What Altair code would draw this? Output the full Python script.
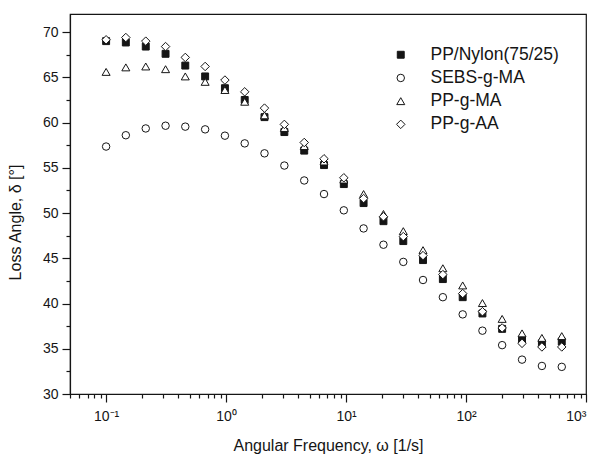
import altair as alt
import pandas as pd

omega = [0.1, 0.146, 0.214, 0.313, 0.457, 0.669, 0.978, 1.43, 2.09, 3.06, 4.48, 6.55,
         9.58, 14.0, 20.5, 30.0, 43.8, 64.1, 93.8, 137, 200, 293, 429, 628]
pp_nylon = [69.0, 68.85, 68.4, 67.6, 66.3, 65.1, 63.8, 62.5, 60.6, 58.95, 56.9, 55.3,
            53.2, 51.1, 49.1, 46.9, 44.8, 42.7, 40.7, 38.9, 37.2, 36.0, 35.6, 35.8]
sebs_g_ma = [57.35, 58.6, 59.35, 59.65, 59.55, 59.25, 58.55, 57.7, 56.6, 55.25, 53.6, 52.1,
             50.3, 48.3, 46.5, 44.6, 42.6, 40.7, 38.8, 37.0, 35.4, 33.8, 33.1, 33.0]
pp_g_ma = [65.6, 66.1, 66.2, 65.9, 65.1, 64.5, 63.6, 62.3, 60.8, 59.4, 57.4, 55.7,
           53.7, 52.1, 49.9, 48.0, 45.9, 43.9, 42.0, 40.05, 38.3, 36.7, 36.2, 36.4]
pp_g_aa = [69.15, 69.4, 69.0, 68.4, 67.2, 66.2, 64.7, 63.4, 61.6, 59.8, 57.8, 56.0,
           53.9, 51.6, 49.6, 47.4, 45.3, 43.2, 41.1, 39.1, 37.3, 35.6, 35.2, 35.2]

series_names = ["PP/Nylon(75/25)", "SEBS-g-MA", "PP-g-MA", "PP-g-AA"]
series_vals = [pp_nylon, sebs_g_ma, pp_g_ma, pp_g_aa]

x_major = [0.1, 1, 10, 100, 1000]
x_minor = [m * d for d in [0.01, 0.1, 1, 10, 100] for m in range(2, 10)]
x_minor = [v for v in x_minor if 0.05 <= v <= 1000]
y_major = [30, 35, 40, 45, 50, 55, 60, 65, 70]
y_minor = [32.5, 37.5, 42.5, 47.5, 52.5, 57.5, 62.5, 67.5]

rows = []
for name, vals in zip(series_names, series_vals):
    for w, d in zip(omega, vals):
        rows.append({"omega": w, "delta": d, "series": name})
df = pd.DataFrame(rows)

FONT = "Liberation Sans"
INK = "#151515"

xscale = alt.Scale(type="log", domain=[0.05, 1000], nice=False)
yscale = alt.Scale(domain=[30, 72], nice=False, zero=False)

label_expr = ("datum.value < 0.5 ? '10⁻¹' : datum.value < 5 ? '10⁰' : "
              "datum.value < 50 ? '10¹' : datum.value < 500 ? '10²' : '10³'")


def leg():
    return alt.Legend(title=None, orient="none", legendX=322, legendY=32,
                      labelFontSize=17.5, labelFont=FONT, labelColor=INK,
                      rowPadding=4.2, labelOffset=21, symbolStrokeWidth=1)


points = alt.Chart(df).mark_point(strokeWidth=1, opacity=1).encode(
    x=alt.X("omega:Q", scale=xscale,
            axis=alt.Axis(orient="bottom", values=x_major, labelExpr=label_expr,
                          title="Angular Frequency, ω [1/s]", grid=False,
                          tickSize=8, labelPadding=7, labelFontSize=14,
                          titleFontSize=16, titlePadding=14, titleFontWeight="normal")),
    y=alt.Y("delta:Q", scale=yscale,
            axis=alt.Axis(orient="left", values=y_major, title="Loss Angle, δ [°]",
                          grid=False, tickSize=8, labelPadding=4, labelFontSize=14,
                          titleFontSize=16, titleFontWeight="normal",
                          titleX=-47, titleY=208, titleBaseline="bottom")),
    shape=alt.Shape("series:N",
                    scale=alt.Scale(domain=series_names,
                                    range=["square", "circle", "triangle-up", "diamond"]),
                    legend=leg()),
    fill=alt.Fill("series:N",
                  scale=alt.Scale(domain=series_names,
                                  range=[INK, "white", "white", "white"]),
                  legend=leg()),
    stroke=alt.Stroke("series:N",
                      scale=alt.Scale(domain=series_names,
                                      range=[INK, INK, INK, INK]),
                      legend=leg()),
    size=alt.Size("series:N",
                  scale=alt.Scale(domain=series_names, range=[48, 72, 80, 85]),
                  legend=leg()),
)

xdf = pd.DataFrame({"omega": [0.1], "delta": [30.0]})
minor_axes = alt.Chart(xdf).mark_point(opacity=0).encode(
    x=alt.X("omega:Q", scale=xscale,
            axis=alt.Axis(orient="bottom", values=x_minor, labels=False, title=None,
                          grid=False, tickSize=4, domain=False)),
    y=alt.Y("delta:Q", scale=yscale,
            axis=alt.Axis(orient="left", values=y_minor, labels=False, title=None,
                          grid=False, tickSize=4, domain=False)),
)

chart = alt.layer(points, minor_axes).resolve_axis(x="independent", y="independent").properties(
    width=516, height=380,
    autosize=alt.AutoSizeParams(type="none"),
    padding={"left": 62, "top": 6, "right": 2, "bottom": 61},
).configure_view(stroke=INK, strokeWidth=1.2).configure_axis(
    domainColor=INK, tickColor=INK, labelColor=INK, titleColor=INK,
    labelFont=FONT, titleFont=FONT, domainWidth=1.2, tickWidth=1.2,
).configure_legend(labelFont=FONT)

chart.save("out.html", embed_options={"renderer": "svg", "actions": False})
